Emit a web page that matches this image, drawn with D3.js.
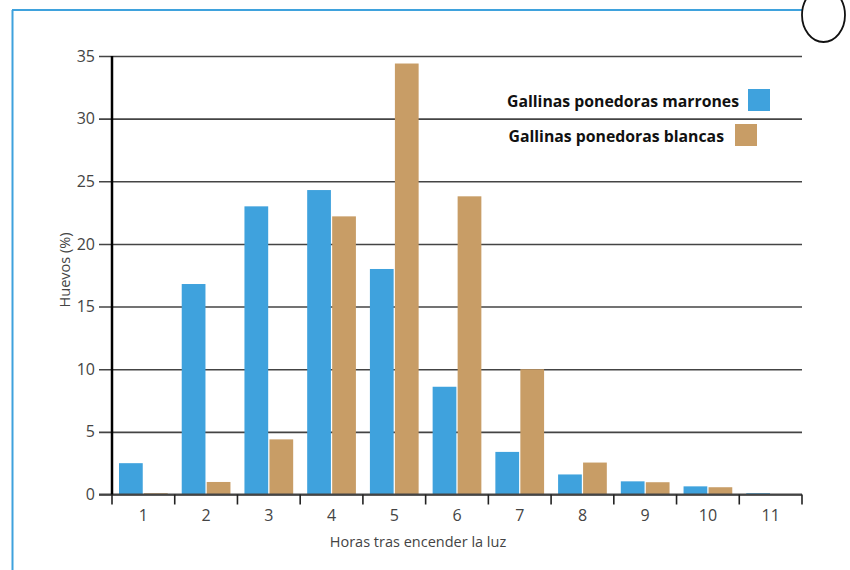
<!DOCTYPE html>
<html><head><meta charset="utf-8">
<script src="https://cdn.jsdelivr.net/npm/d3@7"></script>
<style>body{margin:0;background:#fff}svg{display:block}text{font-family:"Open Sans",sans-serif}</style>
</head><body>
<svg id="c" width="850" height="570"></svg>
<script>
const hours = ["1","2","3","4","5","6","7","8","9","10","11"];
const seriesNames = ["Gallinas ponedoras marrones","Gallinas ponedoras blancas"];
const marrones = [2.5,16.8,23.0,24.3,18.0,8.6,3.4,1.6,1.05,0.65,0.1];
const blancas = [0.1,1.0,4.4,22.2,34.4,23.8,10.0,2.55,0.98,0.58,0];
const yTicks = [0,5,10,15,20,25,30,35];
const colors = ["#3fa2dd","#c89d66"];

const svg = d3.select("#c");
// frame
svg.append("line").attr("x1",12.5).attr("x2",12.5).attr("y1",10).attr("y2",570).attr("stroke","#3fa2dd").attr("stroke-width",2);
svg.append("line").attr("x1",12).attr("x2",803).attr("y1",10).attr("y2",10).attr("stroke","#3fa2dd").attr("stroke-width",2);
svg.append("ellipse").attr("cx",823.5).attr("cy",15).attr("rx",21.5).attr("ry",27).attr("fill","#fff").attr("stroke","#111").attr("stroke-width",1.8);

const x0 = d3.scaleBand().domain(hours).range([112,802]).padding(0);
const x1 = d3.scaleBand().domain(seriesNames).range([7, x0.bandwidth()-7]).paddingInner(0.05);
const y = d3.scaleLinear().domain([0,35]).range([494.5,56]);

// gridlines + y ticks
const ga = svg.append("g").attr("transform","translate(802,0)")
  .call(d3.axisLeft(y).tickValues(yTicks).tickSize(703).tickPadding(4).tickFormat(d3.format("d")));
ga.select(".domain").remove();
ga.selectAll(".tick line").attr("stroke","#444").attr("stroke-width",1.6);
ga.selectAll(".tick text").attr("font-size",16).attr("fill","#444").attr("font-family","Open Sans");

// bars
const data = hours.map((h,i)=>({h, vals:[marrones[i], blancas[i]]}));
const grp = svg.append("g").selectAll("g").data(data).join("g")
  .attr("transform",d=>`translate(${x0(d.h)},0)`);
grp.selectAll("rect").data(d=>d.vals.map((v,j)=>({v,s:seriesNames[j],j})).filter(e=>e.v>0)).join("rect")
  .attr("x",e=>x1(e.s)).attr("width",x1.bandwidth())
  .attr("y",e=>y(e.v)).attr("height",e=>y(0)-y(e.v))
  .attr("fill",e=>colors[e.j]);

// x axis
const xa = svg.append("g").attr("transform",`translate(0,${y(0)})`)
  .call(d3.axisBottom(x0).tickSize(0).tickPadding(15));
xa.select(".domain").remove();
xa.selectAll(".tick text").attr("font-size",16).attr("fill","#444").attr("font-family","Open Sans");
svg.append("line").attr("x1",99).attr("x2",802).attr("y1",y(0)).attr("y2",y(0)).attr("stroke","#444").attr("stroke-width",1.8);
const bounds = hours.map(h=>x0(h)).concat([x0(hours[hours.length-1])+x0.bandwidth()]);
svg.append("g").selectAll("line").data(bounds).join("line")
  .attr("x1",d=>d).attr("x2",d=>d).attr("y1",y(0)).attr("y2",y(0)+10)
  .attr("stroke","#222").attr("stroke-width",1.6);

// y axis line
svg.append("line").attr("x1",112).attr("x2",112).attr("y1",y(35)).attr("y2",y(0)).attr("stroke","#000").attr("stroke-width",2.5);

// axis titles
svg.append("text").attr("x",418).attr("y",547).attr("text-anchor","middle").attr("font-size",14.5).attr("fill","#444").text("Horas tras encender la luz");
svg.append("text").attr("transform","translate(70,270) rotate(-90)").attr("text-anchor","middle").attr("font-size",14.5).attr("fill","#444").text("Huevos (%)");

// legend
const leg = [{t:seriesNames[0],c:colors[0],tx:739,sx:748,sy:89},{t:seriesNames[1],c:colors[1],tx:724,sx:735,sy:124}];
leg.forEach(l=>{
  svg.append("text").attr("x",l.tx).attr("y",l.sy+18).attr("text-anchor","end").attr("font-size",15.8).attr("font-weight","bold").attr("fill","#111").text(l.t);
  svg.append("rect").attr("x",l.sx).attr("y",l.sy).attr("width",22).attr("height",22).attr("fill",l.c);
});
</script>
</body></html>
